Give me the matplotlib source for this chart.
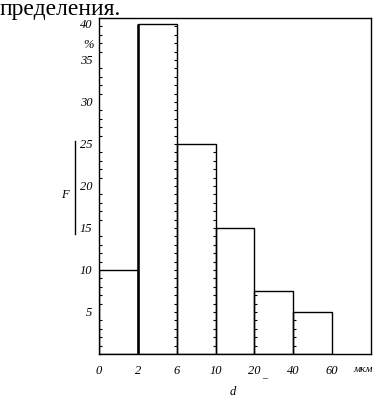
import matplotlib
matplotlib.use("Agg")
import matplotlib.pyplot as plt
import matplotlib.transforms as mtransforms
from matplotlib.ticker import MultipleLocator

edge_labels = ["0", "2", "6", "10", "20", "40", "60"]
freq = [10, 39.3, 25, 15, 7.5, 5]
ytick_vals = [5, 10, 15, 20, 25, 30, 35, 40]

W, H = 378, 400
fig = plt.figure(figsize=(W / 100, H / 100), dpi=100)
ax = fig.add_axes([99 / W, (H - 354) / H, (371 - 99) / W, (354 - 18) / H])

pos = list(range(len(freq)))
ax.bar(pos, freq, width=1, align="edge", fill=False, edgecolor="black", linewidth=1.0)
# thick edge at d = 2
ax.plot([1, 1], [0, freq[1]], color="black", linewidth=1.8, solid_capstyle="butt")

# small graph-paper tick marks seen along some bar edges
tick_kw = dict(color="black", markersize=2.5, markeredgewidth=0.8, linestyle="none")
ys = list(range(1, 40))
ax.plot([2] * len(ys), ys, marker=0, **tick_kw)
ys = list(range(1, 25))
ax.plot([3] * len(ys), ys, marker=0, **tick_kw)
ys = list(range(1, 8))
ax.plot([4] * len(ys), ys, marker=1, **tick_kw)
ys = list(range(1, 5))
ax.plot([5] * len(ys), ys, marker=1, **tick_kw)

ax.set_xlim(0, 7)
ax.set_ylim(0, 40)
for s in ax.spines.values():
    s.set_linewidth(1.0)

tfont = dict(family="Liberation Serif", style="italic", size=9)
ax.set_xticks(range(len(edge_labels)))
ax.set_xticklabels(edge_labels, **tfont)
ax.set_yticks(ytick_vals)
ax.set_yticklabels([str(v) for v in ytick_vals], **tfont)
ax.tick_params(axis="both", which="major", length=0)
ax.tick_params(axis="x", pad=8)
ax.tick_params(axis="y", pad=5)
ax.yaxis.set_minor_locator(MultipleLocator(1))
ax.tick_params(axis="y", which="minor", direction="in", length=2.5, width=0.8, left=True)

# the top label "40" sits a little below the frame corner
fig.canvas.draw()
top_lbl = ax.get_yticklabels()[-1]
top_lbl.set_transform(top_lbl.get_transform() +
                      mtransforms.ScaledTranslation(0, -6 / 100, fig.dpi_scale_trans))

fig.text(88 / W, 1 - 45 / H, "%", ha="center", va="center", **tfont)
fig.text(363 / W, 1 - 369 / H, "мкм", ha="center", va="center",
         family="Liberation Serif", style="italic", size=8)
fig.text(233 / W, 1 - 392 / H, "d", ha="center", va="center", **tfont)
fig.text(264 / W, 1 - 379 / H, "–", ha="center", va="center",
         family="Liberation Serif", size=7)
fig.text(65 / W, 1 - 195 / H, "F", ha="center", va="center", **tfont)
fig.add_artist(plt.Line2D([75 / W, 75 / W], [1 - 141 / H, 1 - 234 / H],
                          transform=fig.transFigure, color="black", linewidth=1.0))

fig.text(0, 1 - 15 / H, "пределения.", ha="left", va="baseline",
         family="Liberation Serif", size=17)

fig.savefig("out.png", dpi=100)
